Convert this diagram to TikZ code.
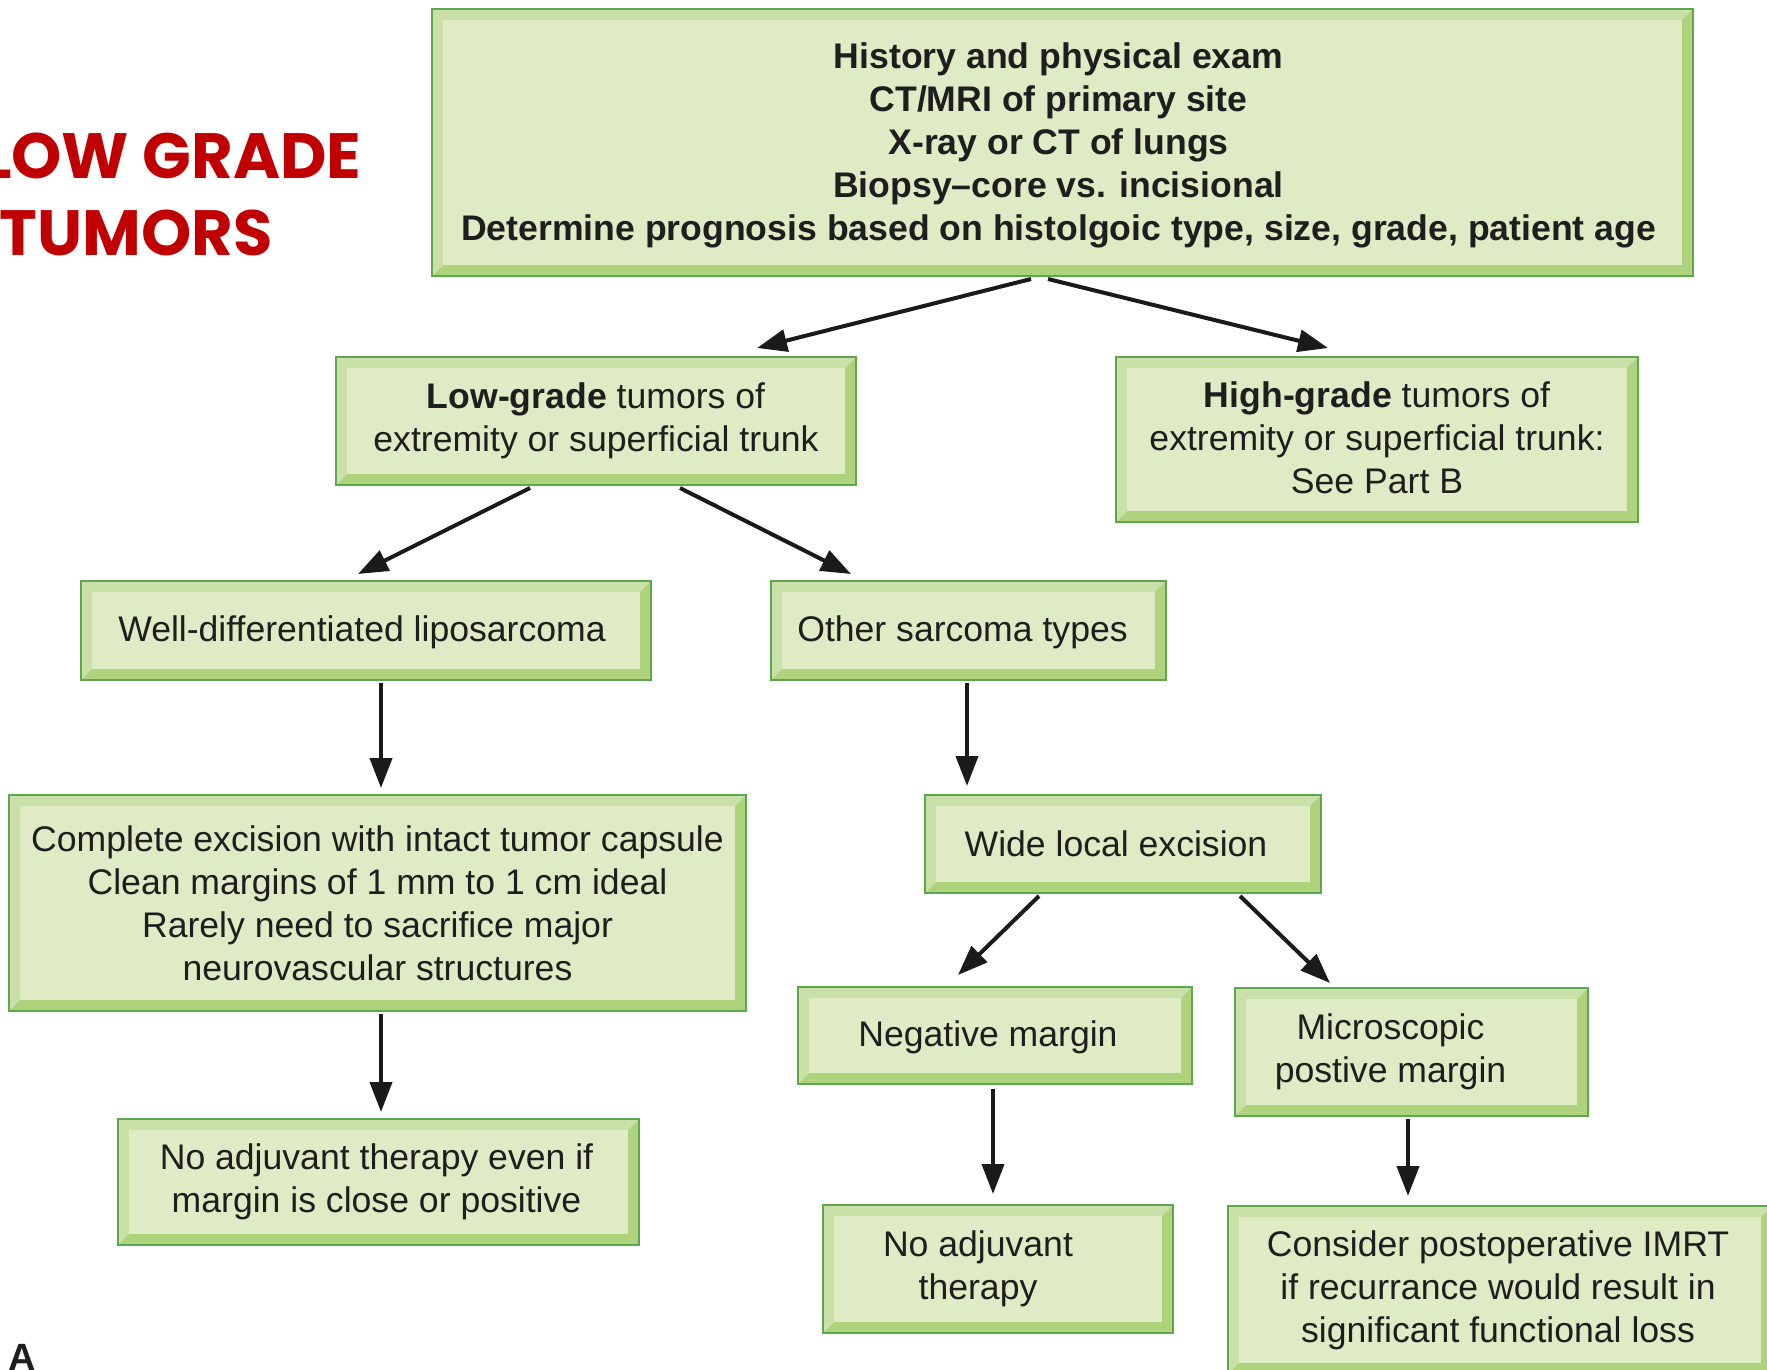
\documentclass[tikz,border=0pt]{standalone}
\usepackage{fontspec}
\setmainfont{Liberation Sans}
\newfontfamily\titlefont{Poppins}
\usetikzlibrary{arrows.meta,calc}
\definecolor{bxline}{HTML}{5DA84C}
\definecolor{bxdark}{HTML}{AED37C}
\definecolor{bxlight}{HTML}{C9E1A9}
\definecolor{bxfill}{HTML}{DEEBC5}
\definecolor{txtc}{HTML}{1E1E1E}
\definecolor{arrc}{HTML}{1A1A1A}
\definecolor{titlered}{HTML}{C00000}
\tikzset{
  fbx/.style={draw=bxline, line width=1pt, fill=bxdark, inner sep=0pt,
    path picture={
      \fill[bxlight] (path picture bounding box.north west) -- (path picture bounding box.north east)
        -- ([shift={(-5.5pt,-5.5pt)}]path picture bounding box.north east)
        -- ([shift={(5.5pt,-5.5pt)}]path picture bounding box.north west)
        -- ([shift={(5.5pt,5.5pt)}]path picture bounding box.south west)
        -- (path picture bounding box.south west) -- cycle;
      \fill[bxfill] ([shift={(5.5pt,-5.5pt)}]path picture bounding box.north west)
        rectangle ([shift={(-5.5pt,5.5pt)}]path picture bounding box.south east);
    }},
  ftxt/.style={align=center, text=txtc, inner sep=0pt,
    font=\fontsize{17.8pt}{21.5pt}\selectfont},
  arr/.style={draw=arrc, line width=2pt, -{Triangle[length=15pt,width=11pt]}},
  ttl/.style={anchor=base east, inner sep=0pt, text=titlered,
    font=\titlefont\bfseries\fontsize{32pt}{36pt}\selectfont},
}
\newcommand\flowbox[8]{%
  \node[fbx, minimum width=#4, minimum height=#5] (#1) at (#2,#3) {};
  \node[ftxt] (#1-t) at ([xshift=#6,yshift=#7]#1.center) {#8};
}
\begin{document}
\begin{tikzpicture}[x=0.5pt,y=-0.5pt]
\useasboundingbox (0,0) rectangle (1767,1370);

% title
\node[ttl] (title1) at (362,178) {LOW GRADE};
\node[ttl] (title2) at (273,255) {TUMORS};
\node[anchor=base west, inner sep=0pt, text=txtc, font=\bfseries\fontsize{19pt}{22pt}\selectfont] (partA) at (8,1370) {A};

\flowbox{top}{1062.5}{142.5}{630.5pt}{133.5pt}{-2pt}{-1.5pt}{\bfseries History and physical exam\\\bfseries CT/MRI of primary site\\\bfseries X-ray or CT of lungs\\\bfseries Biopsy–core vs. incisional\\\bfseries Determine prognosis based on histolgoic type, size, grade, patient age}
\flowbox{low}{596}{421}{260pt}{64pt}{0pt}{0pt}{\textbf{Low-grade} tumors of\\extremity or superficial trunk}
\flowbox{high}{1377}{439.5}{261pt}{82.5pt}{0pt}{1pt}{\textbf{High-grade} tumors of\\extremity or superficial trunk:\\See Part B}
\flowbox{well}{366}{630.5}{285pt}{49.5pt}{-2pt}{-1pt}{Well-differentiated liposarcoma}
\flowbox{other}{968.5}{630.5}{197.5pt}{49.5pt}{-3pt}{-1pt}{Other sarcoma types}
\flowbox{complete}{377.5}{903}{368.5pt}{108pt}{0pt}{0pt}{Complete excision with intact tumor capsule\\Clean margins of 1 mm to 1 cm ideal\\Rarely need to sacrifice major\\neurovascular structures}
\flowbox{wide}{1123}{844}{198pt}{49pt}{-3.5pt}{0pt}{Wide local excision}
\flowbox{neg}{995}{1035.5}{197pt}{48.5pt}{-3.5pt}{-1pt}{Negative margin}
\flowbox{micro}{1411.5}{1052}{176.5pt}{64pt}{-10.5pt}{0pt}{Microscopic\\postive margin}
\flowbox{noadjA}{378.5}{1182}{260.5pt}{63pt}{-1pt}{0pt}{No adjuvant therapy even if\\margin is close or positive}
\flowbox{noadjB}{998}{1269}{175pt}{64pt}{-10pt}{0pt}{No adjuvant\\therapy}
\flowbox{consider}{1500}{1290}{272pt}{84pt}{-1pt}{0pt}{Consider postoperative IMRT\\if recurrance would result in\\significant functional loss}

% connectors
\draw[arr] ($(top.south)+(-31.5,2)$) -- ($(low.north)+(161,-8)$);
\draw[arr] ($(top.south)+(-14.5,2)$) -- ($(high.north)+(-49,-8)$);
\draw[arr] ($(low.south)+(-66,2)$) -- ($(well.north)+(-8,-6)$);
\draw[arr] ($(low.south)+(84,2)$) -- ($(other.north)+(-117.5,-6)$);
\draw[arr] ($(well.south)+(15,2)$) -- ($(complete.north)+(3.5,-6)$);
\draw[arr] ($(other.south)+(-1.5,2)$) -- ($(wide.north)+(-156,-8)$);
\draw[arr] ($(complete.south)+(3.5,2)$) -- ($(noadjA.north)+(2.5,-6)$);
\draw[arr] ($(wide.south)+(-84,2)$) -- ($(neg.north)+(-37,-11)$);
\draw[arr] ($(wide.south)+(117,2)$) -- ($(micro.north)+(-81.5,-4)$);
\draw[arr] ($(neg.south)+(-2,4)$) -- ($(noadjB.north)+(-5,-10)$);
\draw[arr] ($(micro.south)+(-3.5,2)$) -- ($(consider.north)+(-92,-9)$);
\end{tikzpicture}
\end{document}
